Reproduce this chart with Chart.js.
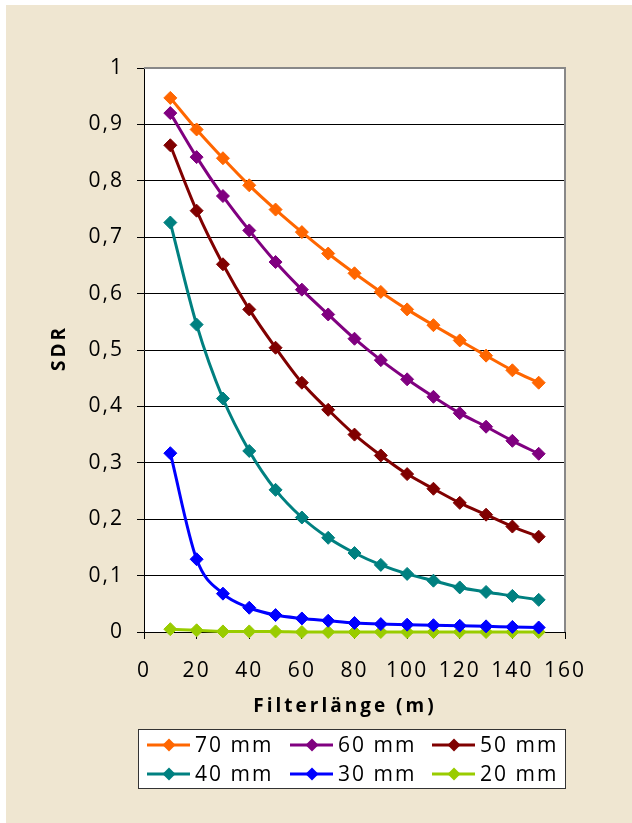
<!DOCTYPE html>
<html>
<head>
<meta charset="utf-8">
<script src="https://cdn.jsdelivr.net/npm/chart.js@4/dist/chart.umd.min.js"></script>
<style>
  html, body { margin: 0; padding: 0; background: #ffffff; }
  #wrap { position: absolute; left: 6px; top: 5px; width: 626px; height: 818px; background: #EFE6D1; }
  canvas { display: block; }
</style>
</head>
<body>
<div id="wrap"><canvas id="c" width="626" height="818"></canvas></div>
<script>
// ---- data ----
const filterLength = [10, 20, 30, 40, 50, 60, 70, 80, 90, 100, 110, 120, 130, 140, 150];
const sdr70 = [0.947, 0.891, 0.840, 0.792, 0.749, 0.709, 0.671, 0.636, 0.603, 0.572, 0.544, 0.517, 0.490, 0.464, 0.442];
const sdr60 = [0.920, 0.842, 0.773, 0.712, 0.656, 0.607, 0.563, 0.520, 0.482, 0.448, 0.417, 0.388, 0.364, 0.339, 0.316];
const sdr50 = [0.863, 0.747, 0.652, 0.572, 0.504, 0.442, 0.394, 0.350, 0.313, 0.280, 0.254, 0.229, 0.208, 0.187, 0.169];
const sdr40 = [0.726, 0.545, 0.414, 0.321, 0.252, 0.203, 0.167, 0.140, 0.119, 0.103, 0.091, 0.079, 0.071, 0.064, 0.057];
const sdr30 = [0.317, 0.129, 0.068, 0.043, 0.030, 0.024, 0.020, 0.016, 0.014, 0.013, 0.012, 0.011, 0.010, 0.009, 0.008];
const sdr20 = [0.005, 0.003, 0.001, 0.001, 0.001, 0.000, 0.000, 0.000, 0.000, 0.000, 0.000, 0.000, 0.000, 0.000, 0.000];
const seriesLabels = ['70 mm', '60 mm', '50 mm', '40 mm', '30 mm', '20 mm'];
const seriesColors = ['#FF6600', '#800080', '#800000', '#008080', '#0000FF', '#99CC00'];
const xTickValues = [0, 20, 40, 60, 80, 100, 120, 140, 160];
const yTickLabels = ['0', '0,1', '0,2', '0,3', '0,4', '0,5', '0,6', '0,7', '0,8', '0,9', '1'];
const xTitle = 'Filterlänge (m)';
const yTitle = 'SDR';

const seriesValues = [sdr70, sdr60, sdr50, sdr40, sdr30, sdr20];

const FONT = '"Open Sans", "DejaVu Sans", sans-serif';

const datasets = seriesValues.map((vals, i) => ({
  label: seriesLabels[i],
  data: vals.map((v, j) => ({ x: filterLength[j], y: v })),
  borderColor: seriesColors[i],
  backgroundColor: seriesColors[i],
  borderWidth: 3,
  pointStyle: 'rectRot',
  pointRadius: 6.5,
  pointBorderWidth: 1,
  pointBorderColor: seriesColors[i],
  pointBackgroundColor: seriesColors[i],
  cubicInterpolationMode: 'monotone',
  clip: false,
  fill: false
}));

const spacingPlugin = {
  id: 'spacing',
  beforeUpdate(chart) { chart.ctx.letterSpacing = '2px'; },
  beforeDraw(chart) {
    chart.ctx.letterSpacing = '2px';
    const a = chart.chartArea, ctx = chart.ctx;
    ctx.save();
    ctx.fillStyle = '#ffffff';
    ctx.fillRect(a.left, a.top, a.right - a.left, a.bottom - a.top);
    ctx.restore();
  },
  beforeDatasetsDraw(chart) {
    const a = chart.chartArea, ctx = chart.ctx;
    ctx.save();
    ctx.strokeStyle = '#888888';
    ctx.lineWidth = 2;
    ctx.beginPath();
    ctx.moveTo(a.left, a.top);
    ctx.lineTo(a.right, a.top);
    ctx.lineTo(a.right, a.bottom);
    ctx.stroke();
    ctx.restore();
  },
  afterDraw(chart) {
    const ctx = chart.ctx, a = chart.chartArea;
    ctx.save();
    // axis titles
    ctx.fillStyle = '#000000';
    ctx.font = 'bold 19px ' + FONT;
    ctx.letterSpacing = '3px';
    ctx.textAlign = 'center';
    ctx.textBaseline = 'middle';
    ctx.fillText(xTitle, 339, 702);
    ctx.save();
    ctx.translate(54, (a.top + a.bottom) / 2);
    ctx.rotate(-Math.PI / 2);
    ctx.fillText(yTitle, 2, 0);
    ctx.restore();

    // legend
    const bx = 132, by = 724, bw = 427, bh = 59;
    ctx.fillStyle = '#ffffff';
    ctx.fillRect(bx, by, bw, bh);
    ctx.strokeStyle = '#333333';
    ctx.lineWidth = 1;
    ctx.strokeRect(bx + 0.5, by + 0.5, bw, bh);
    const colX = [141, 284, 426];
    const rowY = [740, 769];
    ctx.font = '21px ' + FONT;
    ctx.letterSpacing = '2px';
    ctx.textAlign = 'left';
    ctx.textBaseline = 'middle';
    chart.data.datasets.forEach((ds, i) => {
      const x = colX[i % 3], y = rowY[Math.floor(i / 3)];
      ctx.strokeStyle = ds.borderColor;
      ctx.lineWidth = 3;
      ctx.beginPath();
      ctx.moveTo(x, y);
      ctx.lineTo(x + 43, y);
      ctx.stroke();
      const cx = x + 22, r = 6.5;
      ctx.fillStyle = ds.borderColor;
      ctx.beginPath();
      ctx.moveTo(cx, y - r);
      ctx.lineTo(cx + r, y);
      ctx.lineTo(cx, y + r);
      ctx.lineTo(cx - r, y);
      ctx.closePath();
      ctx.fill();
      ctx.fillStyle = '#000000';
      ctx.fillText(ds.label, x + 48, y + 1);
    });
    ctx.restore();
  }
};

new Chart(document.getElementById('c'), {
  type: 'line',
  data: { datasets },
  plugins: [spacingPlugin],
  options: {
    responsive: false,
    animation: false,
    devicePixelRatio: 1,
    layout: { padding: { top: 63, left: 0, right: 67, bottom: 141 } },
    plugins: { legend: { display: false }, tooltip: { enabled: false } },
    scales: {
      x: {
        type: 'linear',
        min: 0, max: 160,
        afterFit: s => { s.height = 50; },
        afterBuildTicks: s => { s.ticks = xTickValues.map(v => ({ value: v })); },
        grid: { drawOnChartArea: false, drawTicks: true, tickLength: 7, tickColor: '#000000' },
        border: { color: '#000000', width: 1 },
        ticks: { color: '#000000', font: { family: FONT, size: 21 }, padding: 19, maxRotation: 0, autoSkip: false,
                 callback: v => String(v) }
      },
      y: {
        type: 'linear',
        min: 0, max: 1,
        afterFit: s => { s.width = 138; },
        afterBuildTicks: s => { s.ticks = yTickLabels.map((t, i) => ({ value: i / 10 })); },
        grid: { color: c => (c.tick && Math.abs(c.tick.value - 1) < 1e-9) ? '#888888' : '#000000',
                lineWidth: 1, drawTicks: true, tickLength: 7, tickColor: '#000000' },
        border: { color: '#000000', width: 1 },
        ticks: { color: '#000000', font: { family: FONT, size: 21 }, padding: 13, autoSkip: false,
                 callback: (v, i) => yTickLabels[i] }
      }
    }
  }
});
</script>
</body>
</html>
